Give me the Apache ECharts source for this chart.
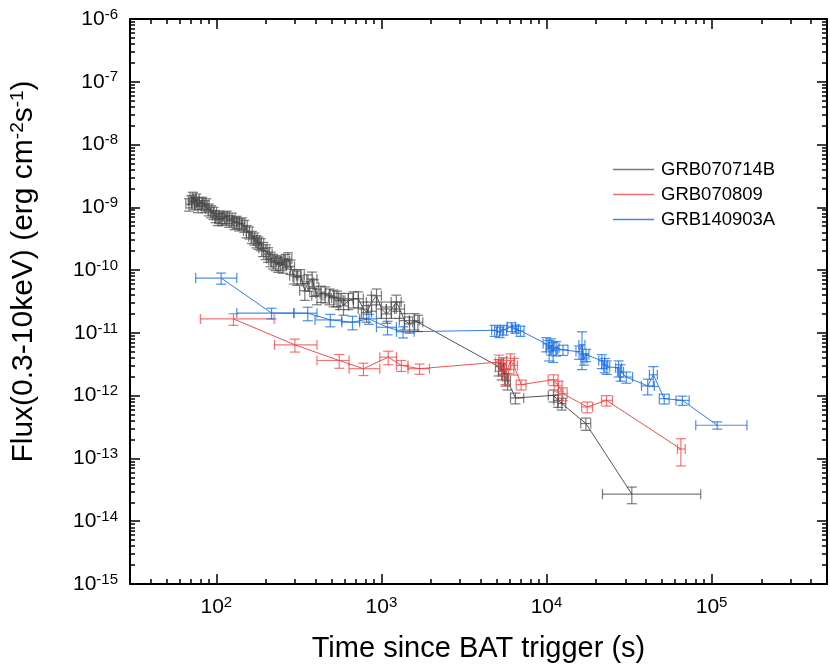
<!DOCTYPE html>
<html>
<head>
<meta charset="utf-8">
<title>XRT light curves</title>
<script src="https://cdn.jsdelivr.net/npm/echarts@6/dist/echarts.min.js"></script>
<style>
html, body { margin: 0; padding: 0; background: #fff; }
#chart { width: 830px; height: 668px; }
</style>
</head>
<body>
<div id="chart"></div>
<script>
// GRB070714B
var grayTime = [68.3, 70.6, 72.2, 74.0, 75.6, 77.4, 79.3, 82.1, 84.9, 86.8,
    90.1, 93.0, 96.2, 98.9, 102.1, 104.5, 108.4, 112.0, 115.6, 120.0,
    124.5, 128.6, 132.8, 137.8, 142.9, 147.7, 152.5, 158.3, 164.1, 169.6,
    175.1, 180.0, 185.8, 192.1, 199.2, 205.9, 213.4, 220.8, 228.8, 237.5,
    245.2, 253.4, 262.8, 271.6, 281.6, 295.1, 308.9, 323.3, 343.6, 359.7,
    380.2, 390.8, 407.4, 430.5, 457.0, 484.3, 513.3, 537.3, 562.3, 589.3,
    631.7, 677.0, 725.5, 777.4, 813.8, 872.1, 934.5, 1001, 1073, 1150,
    1232, 1290, 1382, 1481, 1587, 1664,
    5126, 5344, 5494, 5648, 5806, 6484, 11020, 11760, 12380, 17320, 32870];
var grayTimeErrMinus = [2.9, 3.0, 3.0, 3.1, 3.2, 3.3, 3.3, 3.4, 3.6, 3.6,
    3.8, 3.9, 4.0, 4.2, 4.3, 4.4, 4.6, 4.7, 4.9, 5.0,
    5.2, 5.4, 5.6, 5.8, 6.0, 6.2, 6.4, 6.6, 6.9, 7.1,
    7.4, 7.6, 7.8, 11, 11, 12, 12, 13, 13, 14,
    14, 14, 15, 15, 16, 17, 18, 18, 24, 25,
    27, 27, 29, 30, 32, 34, 36, 38, 39, 41,
    44, 47, 51, 54, 57, 61, 65, 70, 75, 80,
    86, 90, 97, 104, 111, 116,
    215, 225, 230, 237, 244, 433, 770, 670, 700, 1200, 11040];
var grayTimeErrPlus = [2.9, 3.0, 3.0, 3.1, 3.2, 3.3, 3.3, 3.4, 3.6, 3.6,
    3.8, 3.9, 4.0, 4.2, 4.3, 4.4, 4.6, 4.7, 4.9, 5.0,
    5.2, 5.4, 5.6, 5.8, 6.0, 6.2, 6.4, 6.6, 6.9, 7.1,
    7.4, 7.6, 7.8, 11, 11, 12, 12, 13, 13, 14,
    14, 14, 15, 15, 16, 17, 18, 18, 24, 25,
    27, 27, 29, 30, 32, 34, 36, 38, 39, 41,
    44, 47, 51, 54, 57, 61, 65, 70, 75, 80,
    86, 90, 97, 104, 111, 116,
    215, 225, 230, 237, 244, 791, 770, 670, 700, 1200, 53030];
var grayFlux = [1.12e-9, 1.26e-9, 1.43e-9, 1.19e-9, 1.34e-9, 1.05e-9, 1.16e-9, 1.19e-9, 1.05e-9, 1.12e-9,
    9.3e-10, 8.7e-10, 8.2e-10, 7.3e-10, 6.6e-10, 7.1e-10, 6.5e-10, 6.9e-10, 7.1e-10, 6.1e-10,
    6.6e-10, 5.7e-10, 5.9e-10, 5.4e-10, 5.6e-10, 5.1e-10, 4.2e-10, 4.0e-10, 3.4e-10, 3.2e-10,
    2.9e-10, 2.75e-10, 2.6e-10, 2.2e-10, 2.0e-10, 1.8e-10, 1.53e-10, 1.41e-10, 1.33e-10, 1.25e-10,
    1.33e-10, 1.2e-10, 1.41e-10, 1.5e-10, 1.15e-10, 8.1e-11, 7.7e-11, 8.1e-11, 4.7e-11, 6.5e-11,
    7.2e-11, 5.4e-11, 3.9e-11, 4.3e-11, 4.2e-11, 3.9e-11, 3.7e-11, 3.6e-11, 3.3e-11, 2.7e-11,
    3.3e-11, 3.5e-11, 3.5e-11, 2.4e-11, 2.1e-11, 3.1e-11, 3.9e-11, 2.4e-11, 2.0e-11, 2.4e-11,
    3.1e-11, 2.4e-11, 1.57e-11, 1.39e-11, 1.57e-11, 1.48e-11,
    2.9e-12, 2.5e-12, 3.1e-12, 2.0e-12, 1.73e-12, 9.2e-13, 1.01e-12, 8.4e-13, 7.5e-13, 3.6e-13, 2.7e-14];
var grayFluxErr = [2.5e-10, 2.8e-10, 3.1e-10, 2.6e-10, 2.9e-10, 2.3e-10, 2.5e-10, 2.6e-10, 2.3e-10, 2.5e-10,
    2.0e-10, 1.9e-10, 1.8e-10, 1.6e-10, 1.5e-10, 1.6e-10, 1.4e-10, 1.5e-10, 1.6e-10, 1.3e-10,
    1.5e-10, 1.3e-10, 1.3e-10, 1.2e-10, 1.2e-10, 1.1e-10, 9.3e-11, 8.7e-11, 7.5e-11, 7.0e-11,
    6.4e-11, 6.1e-11, 5.7e-11, 5.6e-11, 5.3e-11, 4.7e-11, 4.0e-11, 3.7e-11, 3.5e-11, 3.3e-11,
    3.5e-11, 3.1e-11, 3.7e-11, 3.9e-11, 3.0e-11, 2.1e-11, 2.0e-11, 2.1e-11, 1.4e-11, 1.9e-11,
    2.1e-11, 1.6e-11, 1.1e-11, 1.25e-11, 1.2e-11, 1.1e-11, 1.1e-11, 1.0e-11, 9.5e-12, 7.9e-12,
    9.5e-12, 1.0e-11, 1.0e-11, 7.0e-12, 6.2e-12, 8.9e-12, 1.1e-11, 7.0e-12, 5.8e-12, 7.0e-12,
    8.9e-12, 7.0e-12, 4.6e-12, 4.0e-12, 4.6e-12, 4.3e-12,
    8.4e-13, 7.2e-13, 9.0e-13, 5.8e-13, 5.0e-13, 1.8e-13, 2.2e-13, 1.9e-13, 1.6e-13, 8e-14, 8e-15];

// GRB070809
var redTime = [127, 299, 555, 778, 1099, 1321, 1702, 5150, 5395, 5650, 6050, 6340, 7020, 11020, 11800, 12560, 17630, 23070, 65160];
var redTimeErrMinus = [47, 74, 148, 141, 121, 88, 253, 230, 195, 230, 320, 290, 470, 790, 680, 800, 1300, 1540, 3060];
var redTimeErrPlus = [97, 108, 82, 200, 134, 128, 252, 194, 175, 240, 350, 330, 500, 730, 620, 780, 1380, 1990, 4020];
var redFlux = [1.67e-11, 6.45e-12, 3.63e-12, 2.69e-12, 4.11e-12, 3.03e-12, 2.69e-12, 3.43e-12, 2.86e-12, 2.10e-12,
    3.63e-12, 3.03e-12, 1.50e-12, 1.80e-12, 1.43e-12, 1.08e-12, 6.62e-13, 8.42e-13, 1.41e-13];
var redFluxErr = [3.5e-12, 1.5e-12, 9e-13, 6e-13, 1.0e-12, 6e-13, 5e-13, 1.0e-12, 8e-13, 6e-13,
    1.0e-12, 9e-13, 2.7e-13, 3.5e-13, 2.8e-13, 2.5e-13, 1.3e-13, 1.6e-13, 6.5e-14];

// GRB140903A
var blueTime = [107, 216, 358, 490, 668, 840, 1089, 1352, 4850, 5200, 5495, 6135, 6485, 6950,
    9960, 10380, 10670, 10970, 11430, 12590, 15740, 16400, 16860, 17340, 21630, 22540, 23170,
    27350, 28100, 30420, 41020, 44380, 51650, 66530, 108100];
var blueTimeErrMinus = [32, 83, 63, 94, 93, 102, 156, 119, 200, 220, 230, 350, 270, 350,
    420, 430, 450, 460, 480, 900, 660, 690, 700, 730, 900, 950, 970,
    1150, 1180, 2690, 3440, 2400, 3450, 5720, 27930];
var blueTimeErrPlus = [26, 79, 49, 85, 70, 93, 144, 228, 200, 220, 230, 350, 270, 350,
    420, 430, 450, 460, 480, 900, 660, 690, 700, 730, 900, 950, 970,
    1150, 1180, 2780, 3960, 2520, 3690, 6570, 55600];
var blueFlux = [7.46e-11, 2.07e-11, 2.06e-11, 1.61e-11, 1.48e-11, 1.67e-11, 1.23e-11, 1.04e-11, 1.10e-11, 1.04e-11,
    1.12e-11, 1.25e-11, 1.16e-11, 1.08e-11, 6.69e-12, 5.57e-12, 6.22e-12, 5.18e-12, 5.78e-12, 5.37e-12,
    4.99e-12, 6.5e-12, 3.86e-12, 4.48e-12, 3.60e-12, 3.11e-12, 2.88e-12, 2.78e-12, 2.40e-12, 1.98e-12,
    1.43e-12, 2.15e-12, 8.96e-13, 8.42e-13, 3.38e-13];
var blueFluxErr = [1.5e-11, 4e-12, 5e-12, 3.6e-12, 3.6e-12, 3e-12, 3e-12, 2.1e-12, 2.2e-12, 2e-12,
    2e-12, 2e-12, 1.7e-12, 2e-12, 1.7e-12, 2.0e-12, 1.8e-12, 1.8e-12, 1.5e-12, 1.0e-12,
    1.2e-12, 3.9e-12, 8e-13, 1.0e-12, 9e-13, 8e-13, 7e-13, 8e-13, 7e-13, 4e-13,
    4e-13, 7.5e-13, 1.6e-13, 1.4e-13, 4.5e-14];

var seriesNames = ['GRB070714B', 'GRB070809', 'GRB140903A'];
var xMajorTicks = [1e2, 1e3, 1e4, 1e5];
var yMajorTicks = [1e-15, 1e-14, 1e-13, 1e-12, 1e-11, 1e-10, 1e-9, 1e-8, 1e-7, 1e-6];

var xMin = 30, xMax = 5e5, yMin = 1e-15, yMax = 1e-6;
var FONT = 'Liberation Sans, Arial, Helvetica, sans-serif';

// minor ticks at 2..9 of every decade
function minorTicks(lo, hi, p0, p1) {
    var out = [];
    for (var p = p0; p <= p1; p++) {
        for (var m = 2; m <= 9; m++) {
            var v = m * Math.pow(10, p);
            if (v >= lo && v <= hi) out.push(v);
        }
    }
    return out;
}
var xMinorTicks = minorTicks(xMin, xMax, 1, 5);
var yMinorTicks = minorTicks(yMin, yMax, -15, -7);

function toErrData(t, tm, tp, f, fe) {
    return t.map(function (v, i) {
        return [v, f[i], v - tm[i], v + tp[i], f[i] - fe[i], f[i] + fe[i]];
    });
}
function toLineData(t, f) {
    return t.map(function (v, i) { return [v, f[i]]; });
}

function errorBars(color) {
    return function (params, api) {
        var t = api.value(0), f = api.value(1);
        var c = api.coord([t, f]);
        var l = api.coord([api.value(2), f]);
        var r = api.coord([api.value(3), f]);
        var lo = api.coord([t, api.value(4)]);
        var hi = api.coord([t, api.value(5)]);
        var cap = 5;
        var st = { stroke: color, lineWidth: 1.2, fill: null };
        var seg = function (x1, y1, x2, y2) {
            return { type: 'line', shape: { x1: x1, y1: y1, x2: x2, y2: y2 }, style: st };
        };
        return {
            type: 'group',
            children: [
                seg(l[0], c[1], r[0], c[1]),
                seg(l[0], c[1] - cap, l[0], c[1] + cap),
                seg(r[0], c[1] - cap, r[0], c[1] + cap),
                seg(c[0], lo[1], c[0], hi[1]),
                seg(c[0] - cap, lo[1], c[0] + cap, lo[1]),
                seg(c[0] - cap, hi[1], c[0] + cap, hi[1])
            ]
        };
    };
}

var expRich = {
    b: { fontSize: 21, fontFamily: FONT, color: '#000' },
    s: { fontSize: 15, fontFamily: FONT, color: '#000', verticalAlign: 'top', padding: [0, 0, 9, 0] }
};
function powLabel(v) {
    return '{b|10}{s|' + Math.round(Math.log10(v)) + '}';
}

function frameAxis(pos, isX, ticks, len, showLine, extra) {
    var a = {
        type: 'log', logBase: 10, position: pos,
        min: isX ? xMin : yMin, max: isX ? xMax : yMax,
        axisLine: { show: showLine, onZero: false, lineStyle: { color: '#000', width: 2 } },
        axisTick: { show: true, inside: true, length: len, customValues: ticks,
            lineStyle: { color: '#000', width: 1.5 } },
        axisLabel: { show: false },
        splitLine: { show: false }
    };
    if (extra) {
        for (var k in extra) a[k] = extra[k];
    }
    return a;
}

var chart = echarts.init(document.getElementById('chart'));

var option = {
    animation: false,
    backgroundColor: '#fff',
    grid: { left: 127, right: 3, top: 19, bottom: 82, containLabel: false },
    legend: {
        orient: 'vertical',
        left: 613,
        top: 160,
        padding: 0,
        itemWidth: 41,
        itemHeight: 1.5,
        itemGap: 6,
        textStyle: { fontFamily: FONT, fontSize: 18.5, color: '#000', padding: [0, 0, 0, 2] },
        data: [
            { name: seriesNames[0], icon: 'rect', itemStyle: { color: '#7a7a7a' } },
            { name: seriesNames[1], icon: 'rect', itemStyle: { color: '#ee6f6f' } },
            { name: seriesNames[2], icon: 'rect', itemStyle: { color: '#3d88e6' } }
        ]
    },
    xAxis: [
        frameAxis('bottom', true, xMajorTicks, 10, true, {
            axisLabel: { show: true, customValues: xMajorTicks, margin: 11,
                formatter: powLabel, rich: expRich },
            name: 'Time since BAT trigger (s)',
            nameLocation: 'middle',
            nameGap: 50,
            nameTextStyle: { fontFamily: FONT, fontSize: 29, color: '#000' }
        }),
        frameAxis('bottom', true, xMinorTicks, 5, false),
        frameAxis('top', true, xMajorTicks, 10, true),
        frameAxis('top', true, xMinorTicks, 5, false)
    ],
    yAxis: [
        frameAxis('left', false, yMajorTicks, 10, true, {
            axisLabel: { show: true, customValues: yMajorTicks, margin: 12,
                formatter: powLabel, rich: expRich },
            name: 'Flux(0.3-10keV) (erg cm{s|-2}s{s|-1})',
            nameLocation: 'middle',
            nameGap: 90,
            nameTextStyle: {
                fontFamily: FONT, fontSize: 30, color: '#000', padding: [0, 0, 0, 60],
                rich: { s: { fontSize: 19, fontFamily: FONT, color: '#000', verticalAlign: 'top', padding: [0, 0, 13, 0] } }
            }
        }),
        frameAxis('left', false, yMinorTicks, 5, false),
        frameAxis('right', false, yMajorTicks, 10, true),
        frameAxis('right', false, yMinorTicks, 5, false)
    ],
    series: [
        {
            name: seriesNames[0], type: 'line', symbol: 'none', z: 3,
            lineStyle: { color: '#555', width: 1 },
            data: toLineData(grayTime, grayFlux)
        },
        {
            name: seriesNames[0], type: 'custom', z: 4,
            renderItem: errorBars('rgba(70,70,70,0.72)'),
            data: toErrData(grayTime, grayTimeErrMinus, grayTimeErrPlus, grayFlux, grayFluxErr)
        },
        {
            name: seriesNames[1], type: 'line', symbol: 'none', z: 3,
            lineStyle: { color: '#f05252', width: 1 },
            data: toLineData(redTime, redFlux)
        },
        {
            name: seriesNames[1], type: 'custom', z: 4,
            renderItem: errorBars('rgba(240,70,70,0.75)'),
            data: toErrData(redTime, redTimeErrMinus, redTimeErrPlus, redFlux, redFluxErr)
        },
        {
            name: seriesNames[2], type: 'line', symbol: 'none', z: 3,
            lineStyle: { color: '#2f7fe4', width: 1 },
            data: toLineData(blueTime, blueFlux)
        },
        {
            name: seriesNames[2], type: 'custom', z: 4,
            renderItem: errorBars('rgba(25,110,225,0.78)'),
            data: toErrData(blueTime, blueTimeErrMinus, blueTimeErrPlus, blueFlux, blueFluxErr)
        }
    ]
};

chart.setOption(option);

window.onresize = function () {
    chart.resize();
};
</script>
</body>
</html>
